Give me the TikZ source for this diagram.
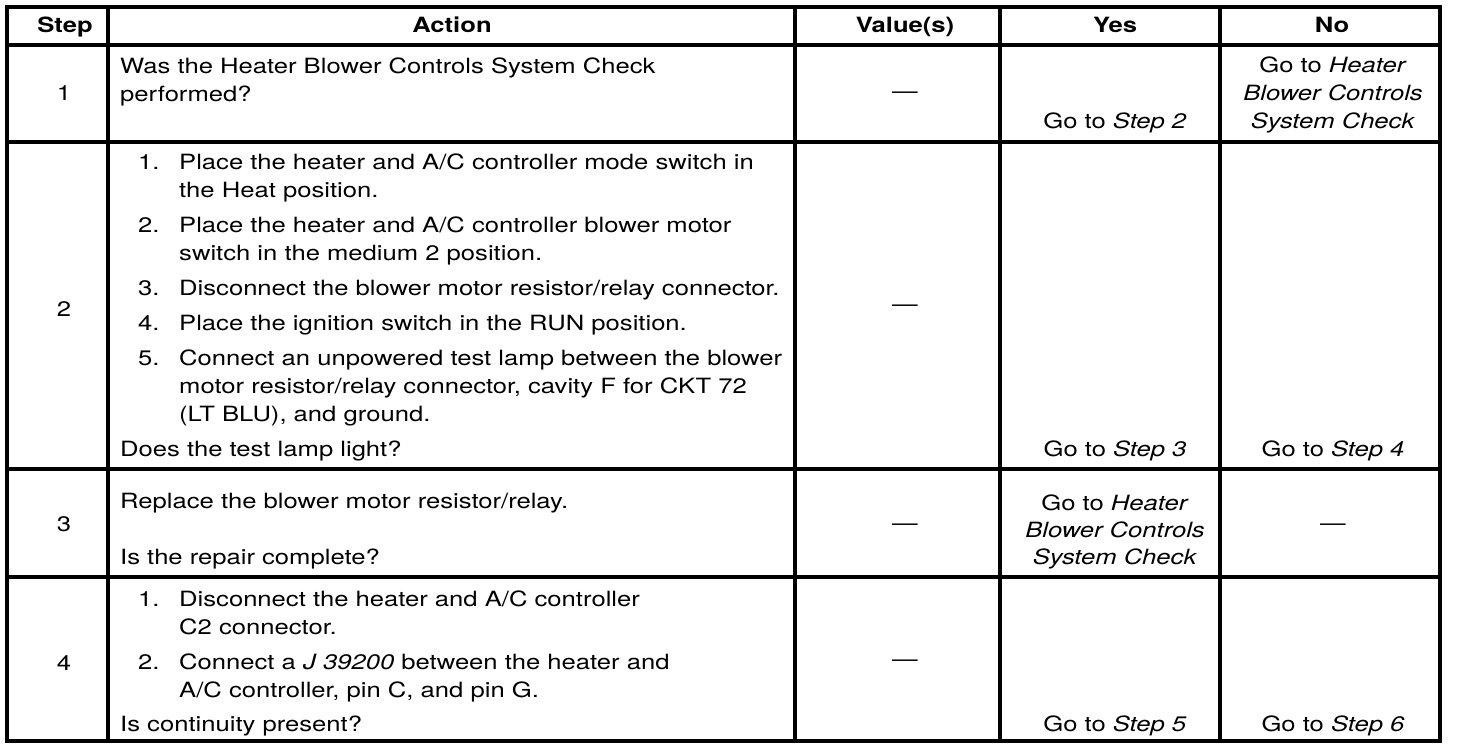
\documentclass[tikz,border=0pt]{standalone}
\usepackage{fontspec}
\setmainfont{TeX Gyre Heros}[FakeStretch=1.22]
\begin{document}
\begin{tikzpicture}[x=1pt,y=-1pt,
  gridline/.style={line width=3.4pt, line cap=rect},
  tfont/.style={font=\fontsize{21}{28}\selectfont},
  txt/.style={tfont, anchor=base west, inner sep=0pt},
  ctr/.style={tfont, anchor=base, inner sep=0pt},
  hdr/.style={anchor=base, inner sep=0pt, font=\fontsize{21}{28}\selectfont\bfseries},
  dashmark/.style={tfont, anchor=base, inner sep=0pt}]
\useasboundingbox (0,0) rectangle (1472,752);
\fill[white] (0,0) rectangle (1472,752);
% grid
\draw[gridline] (7,7) rectangle (1440,741);
\foreach \yy in {45,142,469,577} \draw[gridline] (7,\yy) -- (1440,\yy);
\foreach \xx in {108,795,1000,1220} \draw[gridline] (\xx,7) -- (\xx,741);
% header
\node[hdr] (hstep) at (65,33) {Step};
\node[hdr] (hact) at (452,33) {Action};
\node[hdr] (hval) at (905,33) {Value(s)};
\node[hdr] (hyes) at (1115,33) {Yes};
\node[hdr] (hno) at (1332,33) {No};
% row 1
\node[ctr] (s1) at (64,100) {1};
\node[txt] (a1a) at (120,74) {Was the Heater Blower Controls System Check};
\node[txt] (a1b) at (120,101) {performed?};
\node[dashmark] (v1) at (905,99) {—};
\node[ctr] (y1) at (1115,128) {Go to \textit{Step 2}};
\node[ctr] (n1a) at (1333,73) {Go to \textit{Heater}};
\node[ctr] (n1b) at (1333,100) {\textit{Blower Controls}};
\node[ctr] (n1c) at (1333,128) {\textit{System Check}};
% row 2
\node[ctr] (s2) at (64,316) {2};
\node[txt] (a2n1) at (138,169) {1.};
\node[txt] (a2a) at (179,169) {Place the heater and A/C controller mode switch in};
\node[txt] (a2b) at (179,197) {the Heat position.};
\node[txt] (a2n2) at (138,232) {2.};
\node[txt] (a2c) at (179,232) {Place the heater and A/C controller blower motor};
\node[txt] (a2d) at (179,260) {switch in the medium 2 position.};
\node[txt] (a2n3) at (138,295) {3.};
\node[txt] (a2e) at (179,295) {Disconnect the blower motor resistor/relay connector.};
\node[txt] (a2n4) at (138,330) {4.};
\node[txt] (a2f) at (179,330) {Place the ignition switch in the RUN position.};
\node[txt] (a2n5) at (138,365) {5.};
\node[txt] (a2g) at (179,365) {Connect an unpowered test lamp between the blower};
\node[txt] (a2h) at (179,393) {motor resistor/relay connector, cavity F for CKT 72};
\node[txt] (a2i) at (179,421) {(LT BLU), and ground.};
\node[txt] (a2q) at (120,456) {Does the test lamp light?};
\node[dashmark] (v2) at (905,311) {—};
\node[ctr] (y2) at (1115,456) {Go to \textit{Step 3}};
\node[ctr] (n2) at (1333,456) {Go to \textit{Step 4}};
% row 3
\node[ctr] (s3) at (64,531) {3};
\node[txt] (a3a) at (120,508) {Replace the blower motor resistor/relay.};
\node[txt] (a3q) at (120,564) {Is the repair complete?};
\node[dashmark] (v3) at (905,530) {—};
\node[ctr] (y3a) at (1115,510) {Go to \textit{Heater}};
\node[ctr] (y3b) at (1115,537) {\textit{Blower Controls}};
\node[ctr] (y3c) at (1115,564) {\textit{System Check}};
\node[dashmark] (n3) at (1333,530) {—};
% row 4
\node[ctr] (s4) at (64,670) {4};
\node[txt] (a4n1) at (138,606) {1.};
\node[txt] (a4a) at (179,606) {Disconnect the heater and A/C controller};
\node[txt] (a4b) at (179,634) {C2 connector.};
\node[txt] (a4n2) at (138,669) {2.};
\node[txt] (a4c) at (179,669) {Connect a \textit{J 39200} between the heater and};
\node[txt] (a4d) at (179,697) {A/C controller, pin C, and pin G.};
\node[txt] (a4q) at (120,731) {Is continuity present?};
\node[dashmark] (v4) at (905,666) {—};
\node[ctr] (y4) at (1115,731) {Go to \textit{Step 5}};
\node[ctr] (n4) at (1333,731) {Go to \textit{Step 6}};
\end{tikzpicture}
\end{document}
